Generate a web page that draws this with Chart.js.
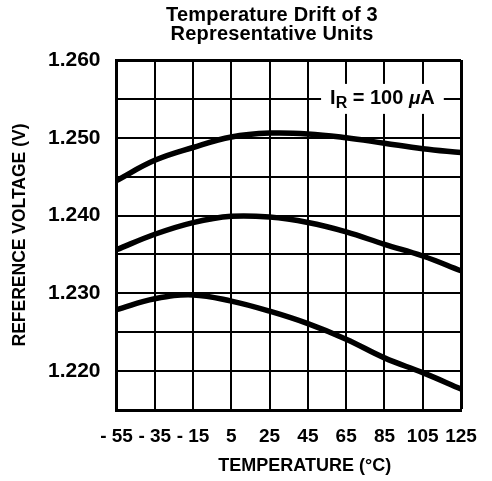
<!DOCTYPE html>
<html><head><meta charset="utf-8">
<script src="https://cdn.jsdelivr.net/npm/chart.js@4/dist/chart.umd.min.js"></script>
<style>html,body{margin:0;padding:0;background:#fff;} #wrap{width:492px;height:481px;position:relative;background:#fff}</style>
</head><body><div id="wrap"><canvas id="c"></canvas></div>
<script>
const titleLines = ['Temperature Drift of 3', 'Representative Units'];
const temperatures = [-55, -35, -15, 5, 25, 45, 65, 85, 105, 125];
const xTickLabels = ['- 55', '- 35', '- 15', '5', '25', '45', '65', '85', '105', '125'];
const unitA = [1.2445, 1.2471, 1.24875, 1.2501, 1.2506, 1.2505, 1.2500, 1.2493, 1.2486, 1.2481];
const unitB = [1.2356, 1.2376, 1.2391, 1.2399, 1.2398, 1.2391, 1.2379, 1.2363, 1.2348, 1.2329];
const unitC = [1.2279, 1.2293, 1.2298, 1.2290, 1.2277, 1.2261, 1.2241, 1.2217, 1.2198, 1.2177];
const yTickLabels = ['1.220', '1.230', '1.240', '1.250', '1.260'];
const yMin = 1.215, yMax = 1.260, yGridStep = 0.005;
const xTitle = 'TEMPERATURE (°C)';
const yTitle = 'REFERENCE VOLTAGE (V)';
const annotationParts = ['I', 'R', ' = 100 ', 'μ', 'A'];
const annotationAt = { xIndex: 7, y: 1.255 };

const SANS = "'Liberation Sans', Arial, Helvetica, sans-serif";

const overlayPlugin = {
  id: 'overlay',
  afterDraw(chart) {
    const ctx = chart.ctx;
    const xs = chart.scales.x, ys = chart.scales.y;
    const area = chart.chartArea;
    ctx.save();
    // chart title
    ctx.fillStyle = '#000';
    ctx.textAlign = 'center';
    ctx.textBaseline = 'middle';
    ctx.font = "bold 20px " + SANS;
    try { ctx.letterSpacing = '0.2px'; } catch (e) {}
    ctx.fillText(titleLines[0], 272, 15);
    ctx.fillText(titleLines[1], 272, 34);
    try { ctx.letterSpacing = '0px'; } catch (e) {}
    // x axis title (slightly right of the plot centre, as in the original)
    ctx.font = "bold 18px " + SANS;
    ctx.fillText(xTitle, (area.left + area.right) / 2 + 16, 466);
    // annotation
    const cx = xs.getPixelForValue(annotationAt.xIndex);
    const cy = ys.getPixelForValue(annotationAt.y);
    const fMain = "bold 20px " + SANS;
    const fSub = "bold 16px " + SANS;
    const fMu = "italic bold 19px " + SANS;
    const parts = [
      { t: annotationParts[0], f: fMain, dy: 0 },
      { t: annotationParts[1], f: fSub, dy: 4 },
      { t: annotationParts[2], f: fMain, dy: 0 },
      { t: annotationParts[3], f: fMu, dy: 0 },
      { t: annotationParts[4], f: fMain, dy: 0 }
    ];
    let total = 0;
    parts.forEach(p => { ctx.font = p.f; p.w = ctx.measureText(p.t).width; total += p.w; });
    const boxW = total + 18, boxH = 30;
    ctx.fillStyle = '#fff';
    ctx.fillRect(cx - boxW / 2 - 2, cy - boxH / 2, boxW, boxH);
    ctx.fillStyle = '#000';
    ctx.textAlign = 'left';
    ctx.textBaseline = 'alphabetic';
    let x = cx - total / 2 - 2;
    const base = cy + 5;
    parts.forEach(p => { ctx.font = p.f; ctx.fillText(p.t, x, base + p.dy); x += p.w; });
    ctx.restore();
  }
};

const lineStyle = {
  borderColor: '#000',
  borderWidth: 5.5,
  pointRadius: 0,
  fill: false,
  tension: 0.4,
  borderCapStyle: 'butt'
};

new Chart(document.getElementById('c'), {
  type: 'line',
  data: {
    labels: xTickLabels,
    datasets: [
      Object.assign({ label: 'Unit 1', data: unitA }, lineStyle),
      Object.assign({ label: 'Unit 2', data: unitB }, lineStyle),
      Object.assign({ label: 'Unit 3', data: unitC }, lineStyle)
    ]
  },
  options: {
    responsive: true,
    maintainAspectRatio: false,
    animation: false,
    layout: { padding: { top: 60, right: 31, bottom: 0, left: 0 } },
    plugins: { legend: { display: false }, title: { display: false }, tooltip: { enabled: false } },
    scales: {
      x: {
        type: 'category',
        offset: false,
        grid: { color: '#000', lineWidth: c => (c.index === temperatures.length - 1 ? 3 : 2), drawTicks: false },
        border: { display: true, color: '#000', width: 3 },
        ticks: { color: '#000', font: { family: SANS, size: 19, weight: 'bold' }, padding: 15, maxRotation: 0, autoSkip: false },
        title: { display: false, text: xTitle },
        afterFit: s => { s.height = 71; }
      },
      y: {
        type: 'linear',
        min: yMin,
        max: yMax,
        afterBuildTicks: s => {
          const n = Math.round((yMax - yMin) / yGridStep);
          const t = [];
          for (let k = 0; k <= n; k++) t.push({ value: Math.round((yMin + k * yGridStep) * 1e6) / 1e6 });
          s.ticks = t;
        },
        grid: { color: '#000', lineWidth: c => (c.tick && Math.abs(c.tick.value - yMax) < 1e-6 ? 3 : 2), drawTicks: false },
        border: { display: true, color: '#000', width: 3 },
        ticks: {
          color: '#000', font: { family: SANS, size: 21, weight: 'bold' }, padding: 16,
          callback: v => yTickLabels.find(l => Math.abs(parseFloat(l) - v) < 1e-6) || ''
        },
        title: { display: true, text: yTitle, color: '#000', font: { family: SANS, size: 17.5, weight: 'bold' }, padding: { top: 10, bottom: 0 } },
        afterFit: s => { s.width = 116.5; }
      }
    }
  },
  plugins: [overlayPlugin]
});
</script>
</body></html>
